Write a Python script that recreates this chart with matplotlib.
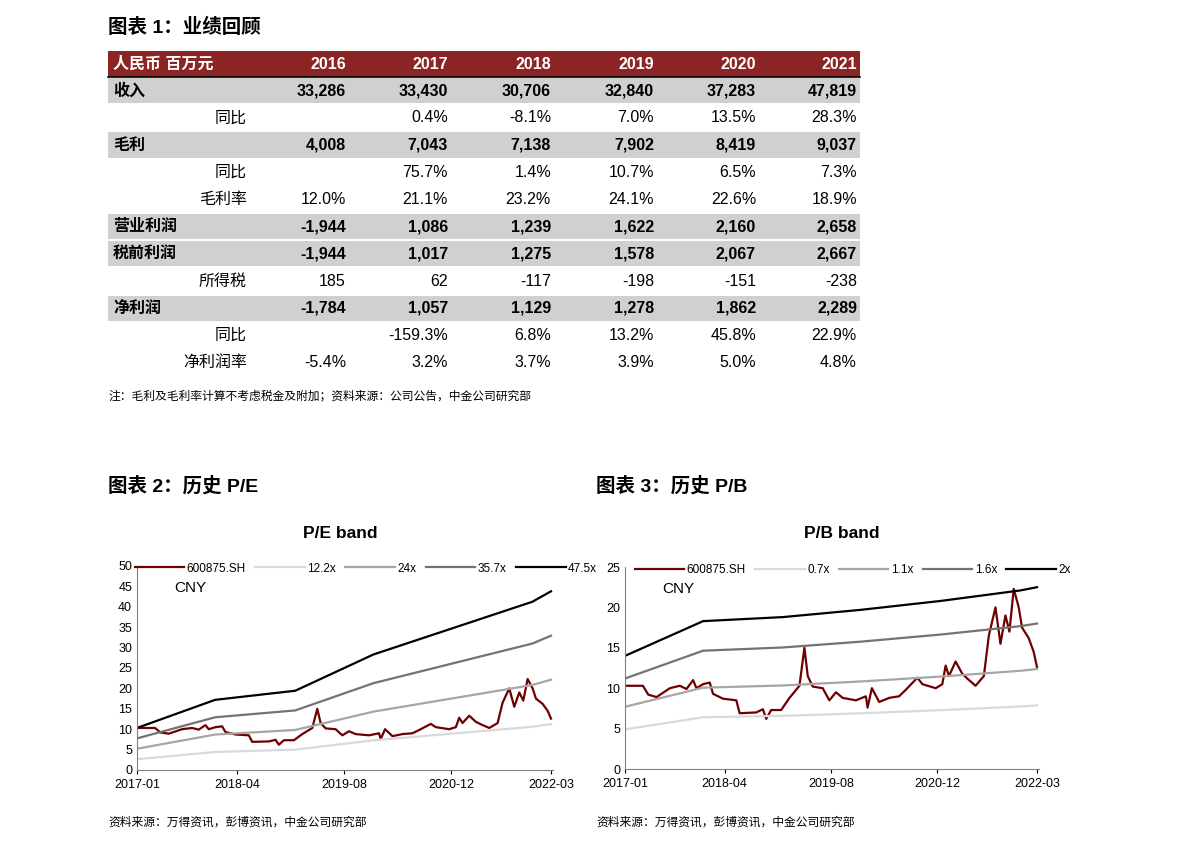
import matplotlib
matplotlib.use("Agg")
import matplotlib.pyplot as plt
import numpy as np
from matplotlib.patches import Rectangle

FAM = ['Liberation Sans', 'Noto Sans CJK SC', 'DejaVu Sans']
plt.rcParams['font.family'] = FAM

# ---------------- table data ----------------
years = ["2016", "2017", "2018", "2019", "2020", "2021"]
row_labels = ["收入", "同比", "毛利", "同比", "毛利率", "营业利润", "税前利润", "所得税", "净利润", "同比", "净利润率"]
row_main = [True, False, True, False, False, True, True, False, True, False, False]
row_values = [
    ["33,286", "33,430", "30,706", "32,840", "37,283", "47,819"],
    ["", "0.4%", "-8.1%", "7.0%", "13.5%", "28.3%"],
    ["4,008", "7,043", "7,138", "7,902", "8,419", "9,037"],
    ["", "75.7%", "1.4%", "10.7%", "6.5%", "7.3%"],
    ["12.0%", "21.1%", "23.2%", "24.1%", "22.6%", "18.9%"],
    ["-1,944", "1,086", "1,239", "1,622", "2,160", "2,658"],
    ["-1,944", "1,017", "1,275", "1,578", "2,067", "2,667"],
    ["185", "62", "-117", "-198", "-151", "-238"],
    ["-1,784", "1,057", "1,129", "1,278", "1,862", "2,289"],
    ["", "-159.3%", "6.8%", "13.2%", "45.8%", "22.9%"],
    ["-5.4%", "3.2%", "3.7%", "3.9%", "5.0%", "4.8%"],
]

# ---------------- chart data ----------------
# months since 2017-01
price_m = [0, 2.7, 3.5, 4.75, 6.75, 8.25, 9.25, 10.25, 10.75, 11.75, 12.75, 13.25, 14.75, 16.75, 17.25,
           19.75, 20.75, 21.25, 22, 23.5, 24.75, 26.25, 27, 27.5, 28.25, 29.75, 30.75, 31.75, 32.75,
           34.75, 36.25, 36.5, 37.15, 38.25, 39.75, 41.25, 42.25, 44, 44.75, 46.75, 47.75, 48.25, 48.75,
           49.75, 50.75, 51.5, 52.75, 54, 54.75, 55.75, 56.5, 57.25, 57.85, 58.5, 59.25, 59.75, 60.75,
           61.5, 62]
price_v = [10.3, 10.3, 9.2, 8.9, 10.0, 10.3, 9.9, 11.0, 10.0, 10.5, 10.7, 9.3, 8.7, 8.5, 6.9,
           7.0, 7.4, 6.2, 7.3, 7.3, 8.8, 10.3, 15.0, 11.5, 10.2, 10.0, 8.5, 9.5, 8.8,
           8.5, 9.0, 7.6, 10.0, 8.3, 8.8, 9.0, 9.8, 11.3, 10.5, 10.0, 10.5, 12.8, 11.5,
           13.3, 11.8, 11.2, 10.3, 11.5, 16.5, 20.0, 15.5, 19.0, 17.0, 22.3, 20.0, 17.5, 16.2,
           14.5, 12.6]
eps_m = [0, 11.7, 23.7, 35.4, 59.2, 62]
eps_v = [0.217, 0.362, 0.409, 0.596, 0.868, 0.922]
pe_mult = [12.2, 24, 35.7, 47.5]
pe_labels = ["12.2x", "24x", "35.7x", "47.5x"]
bps_m = [0, 11.75, 23.75, 35.5, 47.5, 59.5, 62]
bps_v = [7.0, 9.15, 9.4, 9.85, 10.4, 11.05, 11.25]
pb_mult = [0.7, 1.1, 1.6, 2.0]
pb_labels = ["0.7x", "1.1x", "1.6x", "2x"]
xtick_m = [0, 15, 31, 47, 62]
xtick_labels = ["2017-01", "2018-04", "2019-08", "2020-12", "2022-03"]
band_colors = ["#d9d9d9", "#a6a6a6", "#737373", "#000000"]
stock_color = "#6e0000"

fig = plt.figure(figsize=(11.9, 8.49), dpi=100)
bg = fig.add_axes([0, 0, 1, 1])
bg.set_xlim(0, 1190); bg.set_ylim(849, 0); bg.axis('off')

# ---- table ----
bg.text(108, 27, "图表 1：业绩回顾", fontsize=14, fontweight='bold', va='center', ha='left')
x0, x1 = 108, 860
bg.add_patch(Rectangle((x0, 51), x1 - x0, 26, color="#8b2525", lw=0))
bg.plot([x0, x1], [77, 77], color='black', lw=1.2)
bg.text(113, 64, "人民币 百万元", color='white', fontsize=11.5, fontweight='bold', va='center')
col_x = [346, 448, 551, 654, 756, 857]
for cx, y in zip(col_x, years):
    bg.text(cx, 64, y, color='white', fontsize=11.5, fontweight='bold', va='center', ha='right')
rh = 27.2
for i, (lab, main, vals) in enumerate(zip(row_labels, row_main, row_values)):
    yc = 77 + rh * (i + 0.5)
    fw = 'bold' if main else 'normal'
    if main:
        bg.add_patch(Rectangle((x0, yc - rh / 2 + 1), x1 - x0, rh - 2, color="#d0d0d0", lw=0))
        bg.text(113, yc, lab, fontsize=11.5, fontweight='bold', va='center', ha='left')
    else:
        bg.text(247, yc, lab, fontsize=11.5, va='center', ha='right')
    for cx, v in zip(col_x, vals):
        bg.text(cx, yc, v, fontsize=11.5, fontweight=fw, va='center', ha='right')
bg.text(108, 396, "注：毛利及毛利率计算不考虑税金及附加；资料来源：公司公告，中金公司研究部", fontsize=8.5, va='center')

# ---- charts ----
def chart(rect, sec_title, title, base_m, base_v, mults, labels, ymax, ystep, title_x, sec_x):
    W, H = 1190, 849
    l, t, r, b = rect
    ax = fig.add_axes([l / W, 1 - b / H, (r - l) / W, (b - t) / H])
    xs = np.array(price_m)
    ax.plot(price_m, price_v, color=stock_color, lw=1.6, label="600875.SH")
    for mlt, lab, c in zip(mults, labels, band_colors):
        ax.plot(base_m, np.array(base_v) * mlt, color=c, lw=1.6, label=lab)
    ax.set_xlim(0, 62.3)
    ax.set_ylim(0, ymax)
    ax.set_yticks(np.arange(0, ymax + 0.1, ystep))
    ax.set_xticks(xtick_m)
    ax.set_xticklabels(xtick_labels)
    ax.tick_params(labelsize=9, length=3, width=0.8)
    ax.tick_params(axis='y', length=0)
    for s in ['top', 'right']:
        ax.spines[s].set_visible(False)
    ax.spines['left'].set_color('#808080')
    ax.spines['bottom'].set_color('#808080')
    ax.legend(loc='upper center', ncol=5, frameon=False, fontsize=8.5, bbox_to_anchor=(0.55, 1.04),
              handlelength=4.2, columnspacing=0.8, handletextpad=0.2, borderaxespad=0,
              markerfirst=True)
    ax.text(0.09, 0.89, "CNY", transform=ax.transAxes, fontsize=11, va='center')
    bg.text(title_x, 533, title, fontsize=12.5, fontweight='bold', ha='center', va='center')
    bg.text(sec_x, 486, sec_title, fontsize=14, fontweight='bold', ha='left', va='center')
    bg.text(sec_x, 823, "资料来源：万得资讯，彭博资讯，中金公司研究部", fontsize=8.5, ha='left', va='center')
    return ax

chart((137, 566, 553, 770), "图表 2：历史 P/E", "P/E band", eps_m, eps_v, pe_mult, pe_labels, 50, 5, 340, 108)
chart((625, 567, 1039, 769), "图表 3：历史 P/B", "P/B band", bps_m, bps_v, pb_mult, pb_labels, 25, 5, 842, 596)

fig.savefig("out.png", dpi=100)
